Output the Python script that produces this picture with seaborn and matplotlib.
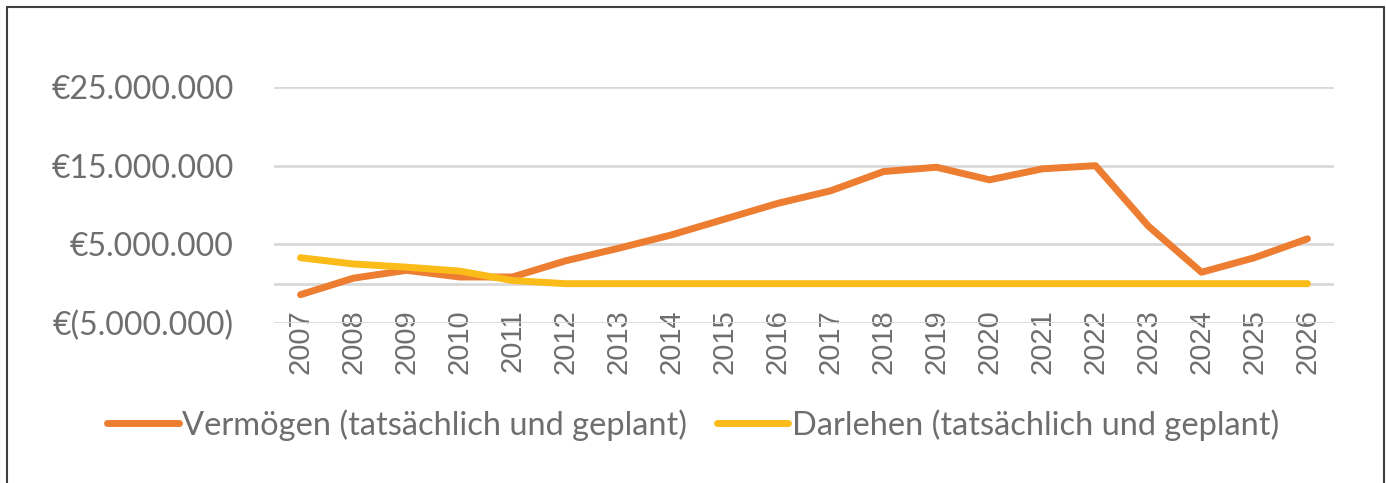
import matplotlib
matplotlib.use("Agg")
import matplotlib.pyplot as plt
import matplotlib.lines as mlines
import matplotlib.ticker as mticker
import seaborn as sns
import pandas as pd

years = [str(y) for y in range(2007, 2027)]
vermoegen = [-1.4e6, 0.7e6, 1.7e6, 0.85e6, 0.85e6, 2.9e6, 4.5e6, 6.2e6, 8.2e6, 10.2e6,
             11.8e6, 14.25e6, 14.8e6, 13.2e6, 14.6e6, 15.0e6, 7.3e6, 1.45e6, 3.3e6, 5.7e6]
darlehen = [3.3e6, 2.5e6, 2.1e6, 1.6e6, 0.4e6, 0, 0, 0, 0, 0,
            0, 0, 0, 0, 0, 0, 0, 0, 0, 0]
series_names = ["Vermögen (tatsächlich und geplant)", "Darlehen (tatsächlich und geplant)"]
colors = ["#ED7D31", "#FBBC1A"]
y_ticks = [-5e6, 5e6, 15e6, 25e6]

text_color = "#6e6e6e"


def euro(v, pos=None):
    s = f"{abs(v):,.0f}".replace(",", ".")
    return f"€({s})" if v < 0 else f"€{s}"


def main():
    data = pd.DataFrame({
        "year": years * 2,
        "value": vermoegen + darlehen,
        "series": [series_names[0]] * len(years) + [series_names[1]] * len(years),
    })

    sns.set_theme(style="white")
    plt.rcParams["font.family"] = ["Lato", "DejaVu Sans"]

    fig = plt.figure(figsize=(13.86, 4.83), dpi=100)
    ax = fig.add_axes([274 / 1386, 1 - 323 / 483, (1334 - 274) / 1386, (323 - 87) / 483])

    sns.lineplot(data=data, x="year", y="value", hue="series", palette=colors,
                 linewidth=5, ax=ax, sort=False, legend=False,
                 solid_capstyle="round", solid_joinstyle="round", zorder=3)

    ax.set_xlim(-0.5, len(years) - 0.5)
    ax.set_ylim(-5e6, 25e6)
    ax.set_yticks(y_ticks)
    ax.yaxis.set_major_formatter(mticker.FuncFormatter(euro))
    ax.grid(axis="y", color="#D9D9D9", linewidth=2)
    ax.axhline(0, color="#D9D9D9", linewidth=2, zorder=1)
    for s in ax.spines.values():
        s.set_visible(False)
    ax.set_xlabel("")
    ax.set_ylabel("")

    ax.tick_params(axis="y", length=0, pad=29, labelsize=23, labelcolor=text_color)
    ax.tick_params(axis="x", length=0, pad=-10, labelsize=21, labelcolor=text_color)
    for lbl in ax.get_xticklabels():
        lbl.set_rotation(90)
        lbl.set_fontfamily("Liberation Sans")
        lbl.set_va("top")

    handles = [mlines.Line2D([], [], color=c, linewidth=5, solid_capstyle="round")
               for c in colors]
    leg = fig.legend(handles, series_names, loc="center", bbox_to_anchor=(0.5, 1 - 425 / 483),
                     ncol=2, frameon=False, fontsize=23.5, handlelength=2.2,
                     handletextpad=0.1, columnspacing=0.9)
    for t in leg.get_texts():
        t.set_color(text_color)

    # outer chart frame
    frame_kw = dict(color="#404040", linewidth=1.5, transform=fig.transFigure)
    fig.add_artist(mlines.Line2D([7 / 1386, 7 / 1386], [0, 1 - 7 / 483], **frame_kw))
    fig.add_artist(mlines.Line2D([7 / 1386, 1384 / 1386], [1 - 7 / 483, 1 - 7 / 483], **frame_kw))
    fig.add_artist(mlines.Line2D([1384 / 1386, 1384 / 1386], [0, 1 - 7 / 483], **frame_kw))

    fig.savefig("out.png", dpi=100)
    plt.close(fig)


if __name__ == "__main__":
    main()
